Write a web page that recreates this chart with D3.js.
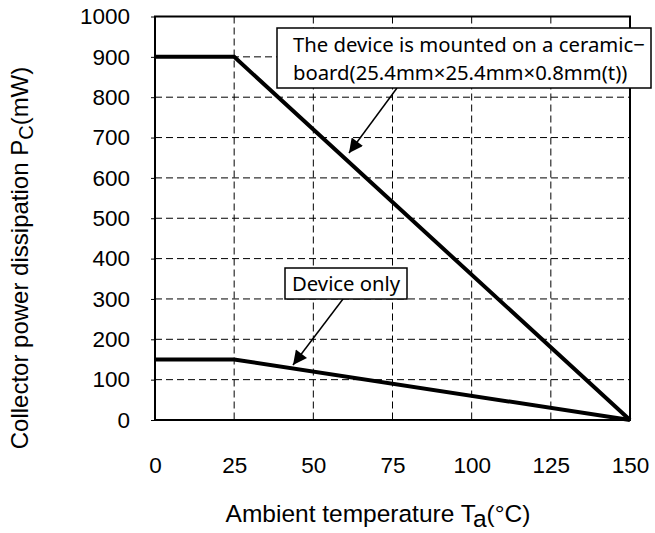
<!DOCTYPE html>
<html><head><meta charset="utf-8">
<script src="https://cdn.jsdelivr.net/npm/d3@7"></script>
<style>body{margin:0;background:#fff}svg{display:block}</style>
</head><body>
<svg id="c" width="655" height="533"></svg>
<script>
const xTicks = [0, 25, 50, 75, 100, 125, 150];
const yTicks = [0, 100, 200, 300, 400, 500, 600, 700, 800, 900, 1000];
const temps = [0, 25, 150];
const ceramicBoard = [900, 900, 0];
const deviceOnly = [150, 150, 0];
const notes = [
  {lines: ["The device is mounted on a ceramic−", "board(25.4mm×25.4mm×0.8mm(t))"]},
  {lines: ["Device only"]}
];

const svg = d3.select("#c");
const M = {l:155, r:630, t:16.5, b:420};
const x = d3.scaleLinear().domain([0,150]).range([M.l, M.r]);
const y = d3.scaleLinear().domain([0,1000]).range([M.b, M.t]);
const font = "'Liberation Sans', Arial, sans-serif";

// grid
const g = svg.append("g");
g.selectAll(".gx").data(xTicks.slice(1,-1)).join("line")
  .attr("x1", d=>x(d)).attr("x2", d=>x(d)).attr("y1", M.t).attr("y2", M.b)
  .attr("stroke","#000").attr("stroke-width",1).attr("stroke-dasharray","7,4");
g.selectAll(".gy").data(yTicks.slice(1,-1)).join("line")
  .attr("y1", d=>y(d)).attr("y2", d=>y(d)).attr("x1", M.l).attr("x2", M.r)
  .attr("stroke","#000").attr("stroke-width",1).attr("stroke-dasharray","7,4");

// axes
const ax = svg.append("g").attr("transform",`translate(0,${M.b})`)
  .call(d3.axisBottom(x).tickValues(xTicks).tickSize(0).tickPadding(37).tickFormat(d3.format("d")));
ax.select(".domain").remove();
ax.selectAll("text").attr("font-family",font).attr("font-size",22.5).attr("fill","#000");
const ay = svg.append("g").attr("transform",`translate(${M.l},0)`)
  .call(d3.axisLeft(y).tickValues(yTicks).tickSize(4).tickPadding(21).tickFormat(d3.format("d")));
ay.select(".domain").remove();
ay.selectAll("line").attr("stroke","#000");
ay.selectAll("text").attr("font-family",font).attr("font-size",22.5).attr("fill","#000");

// frame
svg.append("rect").attr("x",M.l).attr("y",M.t).attr("width",M.r-M.l).attr("height",M.b-M.t)
  .attr("fill","none").attr("stroke","#000").attr("stroke-width",2);

// lines
const line = d3.line().x((d,i)=>x(temps[i])).y(d=>y(d));
[ceramicBoard, deviceOnly].forEach(s=>{
  svg.append("path").attr("d", line(s)).attr("fill","none").attr("stroke","#000")
    .attr("stroke-width",4).attr("stroke-linejoin","miter");
});

// arrow marker
svg.append("defs").append("marker").attr("id","ah").attr("viewBox","0 0 10 10")
  .attr("refX",10).attr("refY",5).attr("markerWidth",18).attr("markerHeight",14)
  .attr("markerUnits","userSpaceOnUse").attr("orient","auto")
  .append("path").attr("d","M0,0L10,5L0,10z").attr("fill","#000");

const nf = "'Noto Sans', sans-serif";
function note(n, bx, by, bw, bh, fs, tx, ty, lh, a1, a2){
  svg.append("line").attr("x1",a1[0]).attr("y1",a1[1]).attr("x2",a2[0]).attr("y2",a2[1])
    .attr("stroke","#000").attr("stroke-width",1.5).attr("marker-end","url(#ah)");
  svg.append("rect").attr("x",bx).attr("y",by).attr("width",bw).attr("height",bh)
    .attr("fill","#fff").attr("stroke","#000").attr("stroke-width",1.5);
  n.lines.forEach((t,i)=>svg.append("text").attr("x",tx).attr("y",ty+i*lh)
    .attr("font-family",nf).attr("font-size",fs).attr("fill","#000").text(t));
}
note(notes[0], 277, 28, 374, 60, 20.3, 293, 52, 28, [397,88], [349,153]);
note(notes[1], 285, 268, 122, 31, 20.3, 292, 291, 0, [343,299], [293,365]);

// axis titles
const xt = svg.append("text").attr("x", 378).attr("y", 522).attr("text-anchor","middle")
  .attr("font-family",font).attr("font-size",24.5).attr("fill","#000");
xt.append("tspan").text("Ambient temperature T");
xt.append("tspan").attr("dy",5).text("a");
xt.append("tspan").attr("dy",-5).text("(°C)");

const yt = svg.append("text").attr("transform","translate(28,258) rotate(-90)").attr("text-anchor","middle")
  .attr("font-family",font).attr("font-size",24).attr("fill","#000");
yt.append("tspan").text("Collector power dissipation P");
yt.append("tspan").attr("dy",5).attr("font-size",20).text("C");
yt.append("tspan").attr("dy",-5).text("(mW)");
</script>
</body></html>
